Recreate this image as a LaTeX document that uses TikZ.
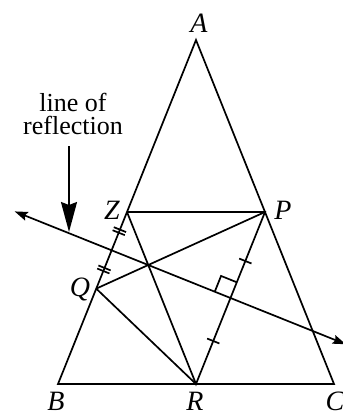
\documentclass[tikz,border=0pt]{standalone}
\usepackage{fontspec}
\setmainfont{Liberation Serif}
\usetikzlibrary{calc,arrows.meta}

\begin{document}
\begin{tikzpicture}[
    x=0.5pt, y=-0.5pt,
    seg/.style={line width=0.85pt},
    mirror/.style={
        line width=0.85pt,
        {Stealth[length=6.5pt,width=4.5pt,inset=1pt]}-{Stealth[length=6.5pt,width=4.5pt,inset=1pt]}
    },
    pointer/.style={line width=0.85pt, -{Stealth[length=15pt,width=8pt,inset=1.5pt]}},
    vlabel/.style={inner sep=0pt, font=\fontsize{14}{12}\selectfont\itshape},
    caption/.style={inner sep=0pt, align=center, font=\fontsize{13}{11.5}\selectfont}
]
\useasboundingbox (0,0) rectangle (343,414);

\coordinate (A) at (196,40);
\coordinate (B) at (58,384);
\coordinate (C) at (334,384);
\coordinate (Z) at ($(A)!0.5!(B)$);
\coordinate (P) at ($(A)!0.5!(C)$);
\coordinate (R) at ($(B)!0.5!(C)$);
\coordinate (M) at ($(P)!0.5!(R)$);
\coordinate (L1) at ($(M)!2.51!-90:(R)$);
\coordinate (L2) at ($(M)!1.34!90:(R)$);
\coordinate (F) at ($(L1)!(Z)!(L2)$);
\coordinate (Q) at ($(Z)!2!(F)$);
\coordinate (V) at (69,232);

\node[vlabel] (lA) at (199,23) {A};
\node[vlabel] (lZ) at (112,210) {Z};
\node[vlabel] (lP) at (283,210) {P};
\node[vlabel] (lQ) at (80,289) {Q};
\node[vlabel] (lB) at (56,401) {B};
\node[vlabel] (lR) at (195,401) {R};
\node[vlabel] (lC) at (335,401) {C};
\node[caption] (lbl) at (73,114) {line of\\reflection};

\draw[seg] (A) -- (B) -- (C) -- cycle;
\draw[seg] (Z) -- (P) -- (R) -- (Z);
\draw[seg] (Q) -- (P);
\draw[seg] (Q) -- (R);
\draw[mirror] (L1) -- (L2);
\draw[pointer] ($(lbl.south -| V)+(0,11)$) -- (V);

% right angle at M
\coordinate (K1) at ($(M)!0.183!(P)$);
\coordinate (K2) at ($(M)!0.183!-90:(R)$);
\draw[seg] (K1) -- ($(K1)+(K2)-(M)$) -- (K2);

% equal parts
\foreach \u/\v/\t in {P/M/0.57, M/R/0.5}
    \draw[seg] ($($(\u)!\t!(\v)$)!3.3pt!90:(\v)$) -- ($($(\u)!\t!(\v)$)!3.3pt!-90:(\v)$);
\foreach \t in {0.23,0.27,0.73,0.77}
    \draw[seg] ($($(Z)!\t!(Q)$)!3.3pt!90:(Q)$) -- ($($(Z)!\t!(Q)$)!3.3pt!-90:(Q)$);

\end{tikzpicture}
\end{document}
